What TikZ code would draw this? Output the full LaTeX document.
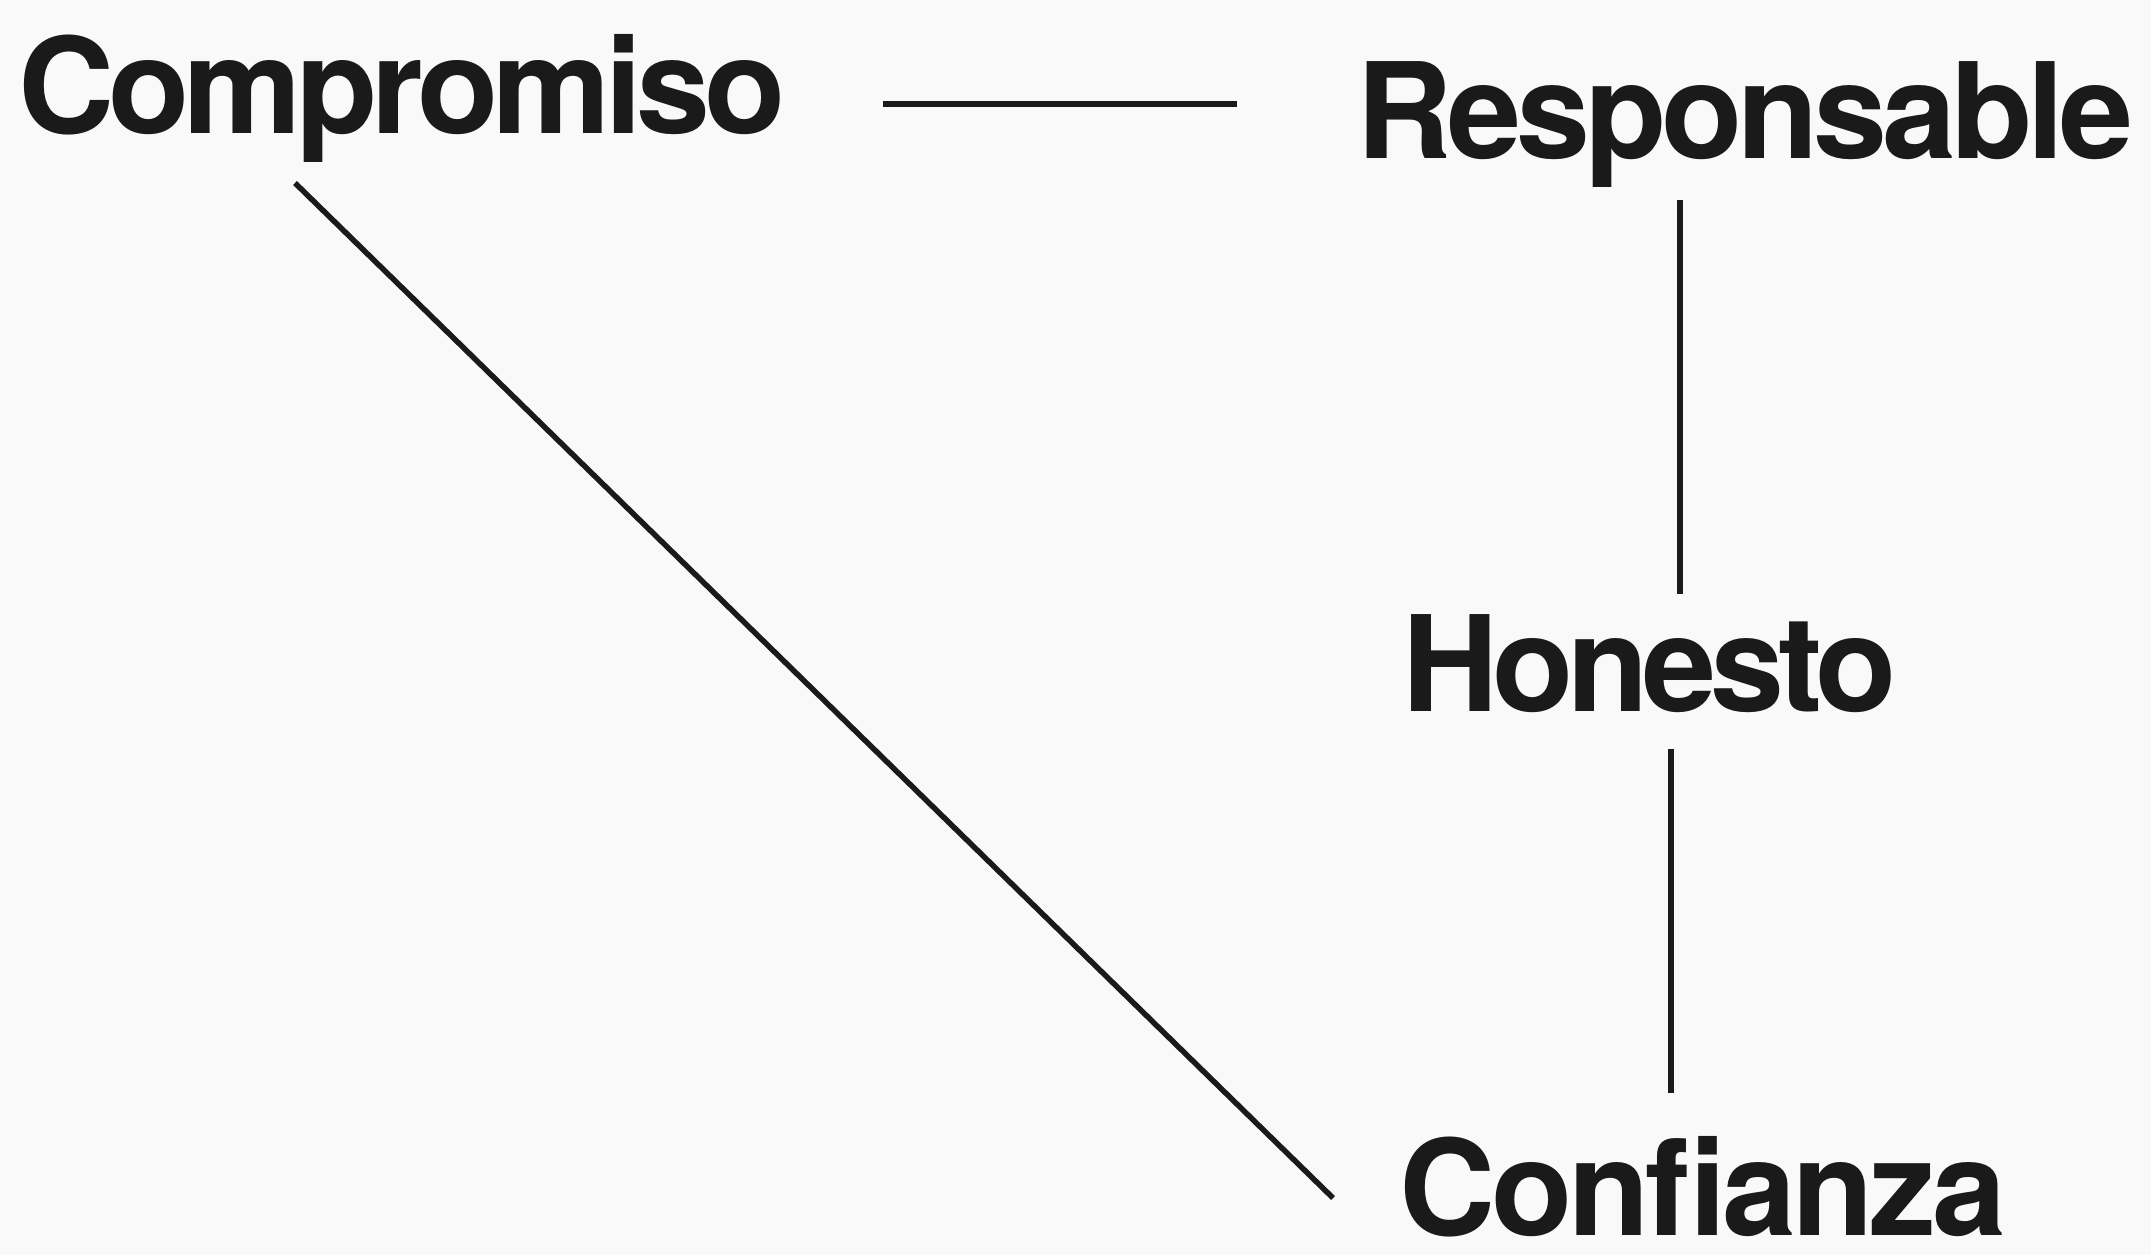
\documentclass[tikz,border=0pt]{standalone}
\usepackage{fontspec}
\setmainfont{TeX Gyre Heros}[LetterSpace=-4.5]
\definecolor{ink}{RGB}{26,26,26}
\definecolor{bg}{RGB}{249,249,249}
\begin{document}
\begin{tikzpicture}[x=1pt,y=-1pt,
  word/.style={anchor=base west,inner sep=0pt,text depth=0pt,text=ink,font=\fontsize{133}{133}\selectfont\bfseries},
  link/.style={draw=ink,line width=5.5pt}]
\fill[bg] (0,0) rectangle (2151,1255);
\useasboundingbox (0,0) rectangle (2151,1255);
\node[word] (comp) at (18,133) {Compromiso};
\node[word] (resp) at (1356,158) {\addfontfeatures{LetterSpace=-3.8}Responsable};
\node[word] (hon) at (1402,711) {Honesto};
\node[word] (conf) at (1399,1235) {\addfontfeatures{LetterSpace=-3.1}Confianza};
\coordinate (h1) at (883,104);
\coordinate (h2) at (1237,104);
\coordinate (v1a) at (1680,200);
\coordinate (v1b) at (1680,594);
\coordinate (v2a) at (1671,749);
\coordinate (v2b) at (1671,1093);
\coordinate (d1) at (295,183);
\coordinate (d2) at (1333,1198);
\draw[link] (h1) -- (h2);
\draw[link] (v1a) -- (v1b);
\draw[link] (v2a) -- (v2b);
\draw[link] (d1) -- (d2);
\end{tikzpicture}
\end{document}
